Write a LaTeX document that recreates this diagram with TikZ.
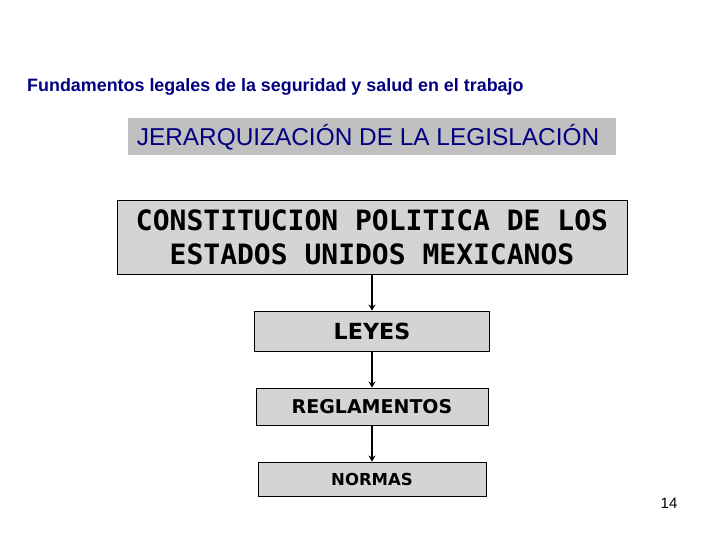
\documentclass[tikz,border=0pt]{standalone}
\usepackage{fontspec}
\setmainfont{Liberation Sans}
\newfontfamily\monob{DejaVu Sans Mono}
\newfontfamily\dvs{DejaVu Sans}
\usetikzlibrary{arrows.meta}
\definecolor{navy}{RGB}{0,0,128}
\definecolor{hdrgray}{RGB}{192,192,192}
\definecolor{boxgray}{RGB}{212,212,212}
\tikzset{
  flowbox/.style={draw=black, line width=0.9pt, fill=boxgray, inner sep=0pt},
  flowarrow/.style={draw=black, line width=1.6pt, -{Stealth[length=6pt,width=7pt]}},
}
\begin{document}
\begin{tikzpicture}[x=1pt,y=-1pt]
\useasboundingbox[fill=white] (0,0) rectangle (720,540);
\node[anchor=west, inner sep=0pt, text=navy, font=\fontsize{17.9}{20}\selectfont\bfseries] (title) at (27,87) {Fundamentos legales de la seguridad y salud en el trabajo};
\node[fill=hdrgray, minimum width=488pt, minimum height=37pt, inner sep=0pt] (hdr) at (372,136.5) {};
\node[text=navy, font=\fontsize{24.4}{28}\selectfont] (hdrtext) at (368,137) {JERARQUIZACIÓN DE LA LEGISLACIÓN};
\node[flowbox, minimum width=510pt, minimum height=74pt, align=center, font=\fontsize{28}{34}\selectfont\monob\bfseries] (cons) at (372,237) {CONSTITUCION POLITICA DE LOS\\ESTADOS UNIDOS MEXICANOS};
\node[flowbox, minimum width=235pt, minimum height=40pt, font=\fontsize{22.2}{24}\selectfont\dvs\bfseries] (leyes) at (372,331) {LEYES};
\node[flowbox, minimum width=232pt, minimum height=37pt, font=\fontsize{19}{22}\selectfont\dvs\bfseries] (regl) at (372,406.5) {REGLAMENTOS};
\node[flowbox, minimum width=228pt, minimum height=34pt, font=\fontsize{16.5}{20}\selectfont\dvs\bfseries] (normas) at (372,479) {NORMAS};
\draw[flowarrow] (cons.south) -- (leyes.north);
\draw[flowarrow] (leyes.south) -- (regl.north);
\draw[flowarrow] (regl.south) -- (normas.north);
\node[font=\fontsize{15}{17}\selectfont] (page) at (669,503) {14};
\end{tikzpicture}
\end{document}
